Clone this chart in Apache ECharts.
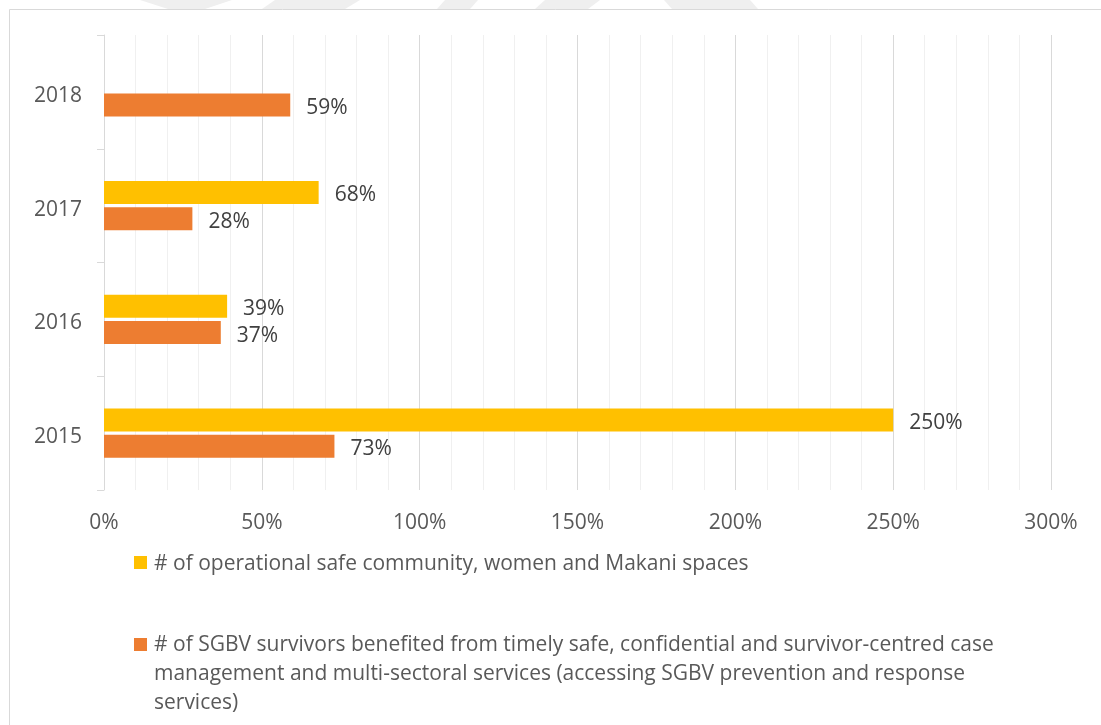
<!DOCTYPE html>
<html>
<head>
<meta charset="utf-8">
<title>SGBV indicators 2015-2018</title>
<script src="https://cdn.jsdelivr.net/npm/echarts@6/dist/echarts.min.js"></script>
<style>
  html, body { margin: 0; padding: 0; background: #ffffff; }
  #chart { width: 1101px; height: 725px; }
</style>
</head>
<body>
<div id="chart"></div>
<script>
// Years on the category axis (bottom to top)
const years = ['2015', '2016', '2017', '2018'];

// Achievement against target, in percent
const safeSpaces = [250, 39, 68, null];      // operational safe community, women and Makani spaces
const survivorsServed = [73, 37, 28, 59];    // SGBV survivors reached with case management services

const seriesNames = [
  '# of operational safe community, women and Makani spaces',
  '# of SGBV survivors benefited from timely safe, confidential and survivor-centred case management and multi-sectoral services (accessing SGBV prevention and response services)'
];
// Wrapped legend lines for the longer name
const survivorLegendLines = [
  '# of SGBV survivors benefited from timely safe, confidential and survivor-centred case',
  'management and multi-sectoral services (accessing SGBV prevention and response',
  'services)'
];

const colors = ['#FFC000', '#ED7D31'];
const FONT = '"Open Sans", "Noto Sans", sans-serif';
const FS = 21;

const chart = echarts.init(document.getElementById('chart'), null, { renderer: 'canvas' });

const labelStyle = {
  show: true,
  position: 'right',
  distance: 16,
  offset: [0, 3],
  color: '#404040',
  fontFamily: FONT,
  fontSize: FS,
  formatter: p => p.value + '%'
};

const legendText = (x, y, text) => ({
  type: 'text', x: x, y: y,
  style: { text: text, fill: '#595959', font: FS + 'px ' + FONT, verticalAlign: 'middle' }
});

chart.setOption({
  animation: false,
  backgroundColor: '#ffffff',
  grid: { left: 104, right: 50, top: 35, bottom: 235, containLabel: false },
  xAxis: {
    type: 'value',
    min: 0, max: 300, interval: 50,
    axisLine: { show: false },
    axisTick: { show: false },
    axisLabel: {
      formatter: '{value}%', color: '#595959', fontFamily: FONT, fontSize: FS, margin: 23
    },
    splitLine: { show: true, lineStyle: { color: '#d9d9d9', width: 1 } },
    minorTick: { show: false, splitNumber: 5 },
    minorSplitLine: { show: true, lineStyle: { color: '#f0f0f0', width: 1 } }
  },
  yAxis: {
    type: 'category',
    data: years,
    axisLine: { show: true, lineStyle: { color: '#d9d9d9', width: 1 } },
    axisTick: { show: true, length: 7, lineStyle: { color: '#d9d9d9' } },
    axisLabel: {
      margin: 22,
      formatter: v => '{y|' + v + '}',
      rich: { y: { color: '#595959', fontFamily: FONT, fontSize: FS, padding: [8, 0, 0, 0] } }
    },
    splitLine: { show: false }
  },
  series: [
    {
      name: seriesNames[0], type: 'bar', data: safeSpaces,
      itemStyle: { color: colors[0] },
      barWidth: 23, barGap: '15%',
      label: labelStyle
    },
    {
      name: seriesNames[1], type: 'bar', data: survivorsServed,
      itemStyle: { color: colors[1] },
      barWidth: 23, barGap: '15%',
      label: labelStyle
    }
  ],
  graphic: [
    // faint background band shapes along the top edge
    { type: 'polygon', z: -10, shape: { points: [[140, 0], [232, 0], [205, 9], [168, 9]] }, style: { fill: '#efefef' } },
    { type: 'polygon', z: -10, shape: { points: [[275, 0], [360, 0], [345, 9], [262, 9]] }, style: { fill: '#efefef' } },
    { type: 'polygon', z: -10, shape: { points: [[445, 0], [478, 0], [470, 9], [437, 9]] }, style: { fill: '#efefef' } },
    { type: 'polygon', z: -10, shape: { points: [[545, 0], [600, 0], [588, 9], [535, 9]] }, style: { fill: '#efefef' } },
    { type: 'polygon', z: -10, shape: { points: [[664, 0], [750, 0], [758, 9], [672, 9]] }, style: { fill: '#efefef' } },
    // chart frame
    { type: 'rect', z: -5, shape: { x: 9.5, y: 9.5, width: 1120, height: 740 }, style: { fill: 'none', stroke: '#d9d9d9', lineWidth: 1 } },
    // legend
    { type: 'rect', shape: { x: 134, y: 556, width: 13, height: 13 }, style: { fill: colors[0] } },
    legendText(154, 564, seriesNames[0]),
    { type: 'rect', shape: { x: 134, y: 638, width: 13, height: 13 }, style: { fill: colors[1] } },
    legendText(154, 645, survivorLegendLines[0]),
    legendText(154, 674, survivorLegendLines[1]),
    legendText(154, 703, survivorLegendLines[2])
  ]
});
</script>
</body>
</html>
